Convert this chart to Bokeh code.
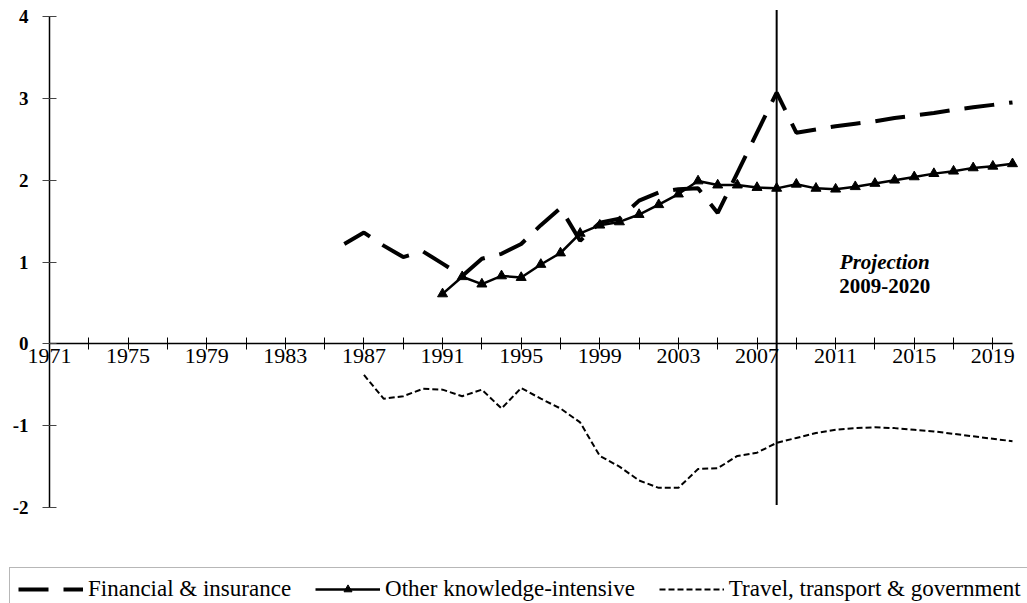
from bokeh.plotting import figure
from bokeh.models import Range1d, FixedTicker, Label, Legend, LegendItem
from bokeh.embed import file_html
from bokeh.resources import INLINE

# ---- data ----
fin_years = list(range(1986, 2021))
fin_values = [1.22, 1.36, 1.20, 1.06, 1.13, 0.98, 0.83, 1.04, 1.10, 1.22,
              1.45, 1.66, 1.26, 1.48, 1.53, 1.75, 1.85, 1.89, 1.90, 1.60,
              2.09, 2.58, 3.07, 2.58, 2.62, 2.66, 2.69, 2.72, 2.76, 2.79,
              2.82, 2.86, 2.89, 2.92, 2.95]

other_years = list(range(1991, 2021))
other_values = [0.61, 0.82, 0.73, 0.83, 0.81, 0.97, 1.11, 1.35, 1.45, 1.49,
                1.58, 1.70, 1.83, 1.99, 1.94, 1.94, 1.91, 1.90, 1.95, 1.90,
                1.89, 1.92, 1.96, 2.00, 2.04, 2.08, 2.11, 2.15, 2.17, 2.20]

travel_years = list(range(1987, 2021))
travel_values = [-0.38, -0.67, -0.64, -0.55, -0.56, -0.64, -0.56, -0.79, -0.54, -0.67,
                 -0.79, -0.96, -1.37, -1.50, -1.67, -1.76, -1.76, -1.53, -1.52, -1.37,
                 -1.33, -1.21, -1.15, -1.09, -1.05, -1.03, -1.02, -1.03, -1.05, -1.07,
                 -1.10, -1.13, -1.16, -1.19]

x_major_ticks = list(range(1971, 2020, 4))
x_minor_ticks = list(range(1973, 2020, 4))
x_tick_labels = [str(y) for y in x_major_ticks]
y_ticks = [-2, -1, 0, 1, 2, 3, 4]
y_tick_labels = [str(v) for v in y_ticks]
x_first, x_last = 1971, 2020
projection_year = 2008

series_names = ["Financial & insurance", "Other knowledge-intensive",
                "Travel, transport & government"]

SERIF = "Liberation Serif"

# ---- layout (pixels) ----
W, H = 1027, 603
AX_LEFT, AX_RIGHT = 49, 1012      # x of 1971 and 2020
AX_TOP, AX_BOTTOM = 16, 507       # y of 4 and -2
ppx = (AX_RIGHT - AX_LEFT) / (x_last - x_first)
ppy = (AX_BOTTOM - AX_TOP) / (max(y_ticks) - min(y_ticks))
x_range = Range1d(x_first - AX_LEFT / ppx, x_first + (W - AX_LEFT) / ppx)
y_range = Range1d(min(y_ticks) - (H - AX_BOTTOM) / ppy, max(y_ticks) + AX_TOP / ppy)

p = figure(width=W, height=H, output_backend="svg", toolbar_location=None,
           x_range=x_range, y_range=y_range, min_border=0)
p.outline_line_color = None
p.xgrid.visible = False
p.ygrid.visible = False
p.background_fill_color = "white"
p.border_fill_color = "white"

# x axis at y = 0
xa = p.xaxis[0]
xa.fixed_location = 0
xa.bounds = (x_first, x_last)
xa.ticker = FixedTicker(ticks=x_major_ticks, minor_ticks=x_minor_ticks)
xa.major_label_overrides = {t: l for t, l in zip(x_major_ticks, x_tick_labels)}
xa.axis_line_color = "black"
xa.axis_line_width = 1.5
xa.major_tick_in = 6
xa.major_tick_out = 6
xa.minor_tick_in = 6
xa.minor_tick_out = 6
xa.major_tick_line_color = "black"
xa.minor_tick_line_color = "black"
xa.major_tick_line_width = 1
xa.minor_tick_line_width = 1
xa.major_label_text_font = SERIF
xa.major_label_text_font_size = "22px"
xa.major_label_text_color = "black"
xa.major_label_standoff = -1

# y axis at x = 1971
ya = p.yaxis[0]
ya.fixed_location = x_first
ya.bounds = (min(y_ticks), max(y_ticks))
ya.ticker = FixedTicker(ticks=y_ticks, minor_ticks=[])
ya.major_label_overrides = {t: l for t, l in zip(y_ticks, y_tick_labels)}
ya.axis_line_color = "black"
ya.axis_line_width = 1.5
ya.major_tick_in = 7
ya.major_tick_out = 7
ya.major_tick_line_color = "#444444"
ya.major_label_text_font = SERIF
ya.major_label_text_font_size = "19px"
ya.major_label_text_font_style = "bold"
ya.major_label_text_color = "black"
ya.major_label_standoff = 14

# series
r_fin = p.line(fin_years, fin_values, line_color="black", line_width=4,
               line_dash="30 15")
r_other = p.line(other_years, other_values, line_color="black", line_width=2.5)
r_other_m = p.scatter(other_years, other_values, marker="triangle", size=10,
                      fill_color="black", line_color="black")
r_travel = p.line(travel_years, travel_values, line_color="black", line_width=2,
                  line_dash="6 3")

# projection divider
p.segment(x0=[projection_year], y0=[min(y_ticks) + 0.03],
          x1=[projection_year], y1=[max(y_ticks) + 0.08],
          line_color="black", line_width=2)
p.add_layout(Label(x=2013.5, y=1.0, text="Projection", text_font=SERIF,
                   text_font_size="21px", text_font_style="bold italic",
                   text_color="black",
                   text_align="center", text_baseline="middle"))
p.add_layout(Label(x=2013.5, y=0.71, text="2009-2020", text_font=SERIF,
                   text_font_size="21px", text_font_style="bold",
                   text_color="black",
                   text_align="center", text_baseline="middle"))

legend = Legend(items=[
    LegendItem(label=series_names[0], renderers=[r_fin]),
    LegendItem(label=series_names[1], renderers=[r_other, r_other_m]),
    LegendItem(label=series_names[2], renderers=[r_travel]),
], orientation="horizontal", location=(9, -8),
    label_text_font=SERIF, label_text_font_size="23px", label_text_color="black",
    glyph_width=65, glyph_height=20, label_height=12, label_standoff=5,
    spacing=24, padding=8, margin=0,
    border_line_color="#707070", border_line_width=1.5,
    background_fill_color="white", background_fill_alpha=1)
p.add_layout(legend, "center")

open("out.html", "w").write(file_html(p, INLINE))
